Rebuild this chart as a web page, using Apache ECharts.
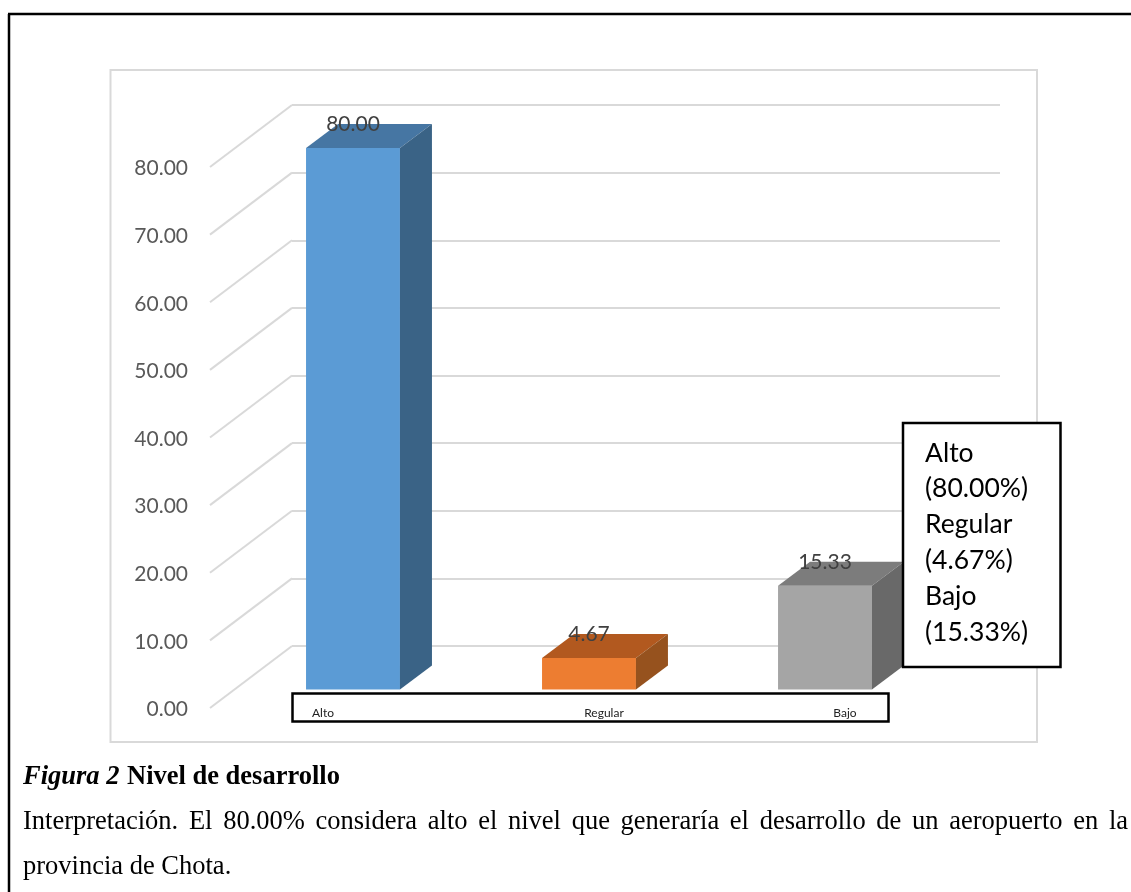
<!DOCTYPE html>
<html>
<head>
<meta charset="utf-8">
<style>html,body{margin:0;padding:0;background:#fff}#c{width:1131px;height:892px}</style>
<script src="https://cdn.jsdelivr.net/npm/echarts@6/dist/echarts.min.js"></script>
</head>
<body>
<div id="c"></div>
<script>
var categories = ['Alto', 'Regular', 'Bajo'];
var values = [80.00, 4.67, 15.33];
var tickValues = [0, 10, 20, 30, 40, 50, 60, 70, 80];
var frontColors = ['#5B9BD5', '#ED7D31', '#A5A5A5'];
var topColors = ['#4676A3', '#B2591F', '#7C7C7C'];
var sideColors = ['#3A6386', '#96521E', '#696969'];
var captionLead = 'Figura 2';
var captionTitle = 'Nivel de desarrollo';
var bodyLine1 = 'Interpretación. El 80.00% considera alto el nivel que generaría el desarrollo de un aeropuerto en la';
var bodyLine2 = 'provincia de Chota.';

var SANS = 'Lato, "Open Sans", sans-serif';
var SERIF = '"Liberation Serif", serif';
var GRID_LINE = '#d9d9d9';
var DEPTH_X = 32, DEPTH_Y = 24;

var chart = echarts.init(document.getElementById('c'), null, {renderer: 'canvas'});

function justifiedWords(text, x0, x1, y, font) {
  var ctx = document.createElement('canvas').getContext('2d');
  ctx.font = font;
  var words = text.split(' ');
  var total = 0;
  words.forEach(function (w) { total += ctx.measureText(w).width; });
  var gap = (x1 - x0 - total) / (words.length - 1);
  var x = x0, out = [];
  words.forEach(function (w) {
    out.push({type: 'text', z: 100, style: {text: w, x: x, y: y, font: font, fill: '#000', textAlign: 'left', textVerticalAlign: 'middle'}});
    x += ctx.measureText(w).width + gap;
  });
  return out;
}

var legendLines = [];
categories.forEach(function (c, i) {
  legendLines.push(c);
  legendLines.push('(' + values[i].toFixed(2) + '%)');
});

var graphics = [
  {type: 'rect', z: 1, silent: true, shape: {x: 110.5, y: 70, width: 926.5, height: 672}, style: {fill: 'none', stroke: GRID_LINE, lineWidth: 2}},
  {type: 'line', z: 100, shape: {x1: 8, y1: 14, x2: 1131, y2: 14}, style: {stroke: '#000', lineWidth: 2.5}},
  {type: 'line', z: 100, shape: {x1: 9, y1: 14, x2: 9, y2: 892}, style: {stroke: '#000', lineWidth: 2.5}},
  {type: 'rect', z: 100, shape: {x: 292.5, y: 693.5, width: 596, height: 28}, style: {fill: '#fff', stroke: '#000', lineWidth: 2.5}},
  {type: 'rect', z: 100, shape: {x: 903, y: 423, width: 157.5, height: 244}, style: {fill: '#fff', stroke: '#000', lineWidth: 2.5}}
];
[323, 604, 845].forEach(function (x, i) {
  graphics.push({type: 'text', z: 101, style: {text: categories[i], x: x, y: 713, font: '12px ' + SANS, fill: '#222', textAlign: 'center', textVerticalAlign: 'middle'}});
});
legendLines.forEach(function (t, i) {
  graphics.push({type: 'text', z: 101, style: {text: t, x: 925, y: 453 + i * 35.8, font: '26.5px ' + SANS, fill: '#000', textAlign: 'left', textVerticalAlign: 'middle'}});
});
graphics.push({type: 'text', z: 100, style: {text: captionLead, x: 23, y: 777, font: 'italic bold 26.5px ' + SERIF, fill: '#000', textVerticalAlign: 'middle'}});
graphics.push({type: 'text', z: 100, style: {text: captionTitle, x: 127, y: 777, font: 'bold 26.5px ' + SERIF, fill: '#000', textVerticalAlign: 'middle'}});
graphics = graphics.concat(justifiedWords(bodyLine1, 23, 1128, 822, '26.5px ' + SERIF));
graphics.push({type: 'text', z: 100, style: {text: bodyLine2, x: 23, y: 867, font: '26.5px ' + SERIF, fill: '#000', textVerticalAlign: 'middle'}});

chart.setOption({
  animation: false,
  backgroundColor: '#fff',
  graphic: {elements: graphics},
  grid: [
    {left: 292, width: 708, top: 105, height: 541},
    {left: 210, width: 82, top: 168.5, height: 541},
    {left: 235, width: 708, top: 148, height: 541.5}
  ],
  xAxis: [
    {gridIndex: 0, type: 'value', min: 0, max: 1, show: false},
    {gridIndex: 1, type: 'value', min: 0, max: 1, show: false},
    {gridIndex: 2, type: 'category', data: categories, show: false}
  ],
  yAxis: [
    {gridIndex: 0, type: 'value', min: 0, max: 80, interval: 10,
      axisLine: {show: false}, axisTick: {show: false}, axisLabel: {show: false},
      splitLine: {show: true, lineStyle: {color: GRID_LINE, width: 2}}},
    {gridIndex: 1, type: 'value', min: 0, max: 80, interval: 10,
      axisLine: {show: false}, axisTick: {show: false}, splitLine: {show: false},
      axisLabel: {show: true, margin: 22, color: '#595959', fontFamily: SANS, fontSize: 21,
        formatter: function (v) { return v.toFixed(2); }}},
    {gridIndex: 2, type: 'value', min: 0, max: 80, interval: 10, show: false}
  ],
  series: [
    {
      type: 'custom', xAxisIndex: 0, yAxisIndex: 0, silent: true, clip: false, z: 2,
      data: tickValues.map(function (v) { return [0, v]; }),
      encode: {x: 0, y: 1},
      renderItem: function (params, api) {
        var b = api.coord([0, api.value(1)]);
        return {type: 'line', shape: {x1: b[0] - 82, y1: b[1] + 62, x2: b[0], y2: b[1]},
          style: {stroke: GRID_LINE, lineWidth: 2, fill: null}};
      }
    },
    {
      type: 'custom', xAxisIndex: 2, yAxisIndex: 2, silent: true, clip: false, z: 3,
      data: values.map(function (v, i) { return [i, v]; }),
      encode: {x: 0, y: 1},
      renderItem: function (params, api) {
        var i = api.value(0), v = api.value(1);
        var top = api.coord([i, v]), base = api.coord([i, 0]);
        var w = api.size([1, 0])[0] * 0.398;
        var l = top[0] - w / 2, r = top[0] + w / 2, t = top[1], b = base[1];
        return {type: 'group', children: [
          {type: 'rect', shape: {x: l, y: t, width: w, height: b - t}, style: {fill: frontColors[i]}},
          {type: 'polygon', shape: {points: [[l, t], [l + DEPTH_X, t - DEPTH_Y], [r + DEPTH_X, t - DEPTH_Y], [r, t]]}, style: {fill: topColors[i]}},
          {type: 'polygon', shape: {points: [[r, t], [r + DEPTH_X, t - DEPTH_Y], [r + DEPTH_X, b - DEPTH_Y], [r, b]]}, style: {fill: sideColors[i]}},
          {type: 'text', style: {text: v.toFixed(2), x: top[0], y: t - 24, fill: '#404040', font: '21px ' + SANS, textAlign: 'center', textVerticalAlign: 'middle'}}
        ]};
      }
    }
  ]
});
</script>
</body>
</html>
